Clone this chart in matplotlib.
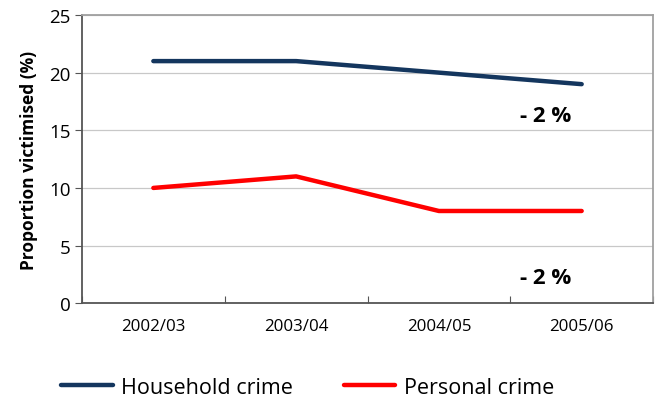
import matplotlib.pyplot as plt
import numpy as np

years = ["2002/03", "2003/04", "2004/05", "2005/06"]
household = [21, 21, 20, 19]
personal = [10, 11, 8, 8]
change_labels = ["- 2 %", "- 2 %"]

plt.rcParams['font.family'] = ['Open Sans', 'DejaVu Sans']

fig = plt.figure(figsize=(6.61, 4.10), dpi=100)
ax = fig.add_axes([0.124, 0.258, 0.864, 0.703])

x = np.arange(len(years)) + 0.5
ax.plot(x, household, color="#14365e", lw=3.2, solid_capstyle="round", label="Household crime")
ax.plot(x, personal, color="#ff0000", lw=3.2, solid_capstyle="round", label="Personal crime")

ax.set_xlim(0, 4)
ax.set_ylim(0, 25)
ax.set_yticks(range(0, 26, 5))
ax.set_xticks(range(0, 5))
ax.set_xticks(x, minor=True)
ax.set_xticklabels([])
ax.set_xticklabels(years, minor=True)
ax.tick_params(axis="x", which="minor", length=0, pad=11, labelsize=12.2)
ax.tick_params(axis="x", which="major", length=5, color="#555555", direction="in")
ax.tick_params(axis="y", length=5, color="#555555", labelsize=13.5, direction="out", pad=3)
ax.grid(axis="y", color="#c8c8c8", lw=0.9)
ax.set_axisbelow(True)

for side in ["left", "bottom"]:
    ax.spines[side].set_color("#555555")
    ax.spines[side].set_linewidth(1.3)
for side in ["top", "right"]:
    ax.spines[side].set_color("#a0a0a0")
    ax.spines[side].set_linewidth(1.3)

ax.set_ylabel("Proportion victimised (%)", fontsize=12.5, fontweight="bold", labelpad=8)

ax.text(3.25, 16.3, change_labels[0], fontsize=16, fontweight="bold", ha="center", va="center")
ax.text(3.25, 2.25, change_labels[1], fontsize=16, fontweight="bold", ha="center", va="center")

fig.legend(loc="lower left", bbox_to_anchor=(0.063, -0.02), ncol=2, frameon=False,
           fontsize=15.5, handlelength=2.4, handletextpad=0.4, columnspacing=2.35)

fig.savefig("out.png", dpi=100)
